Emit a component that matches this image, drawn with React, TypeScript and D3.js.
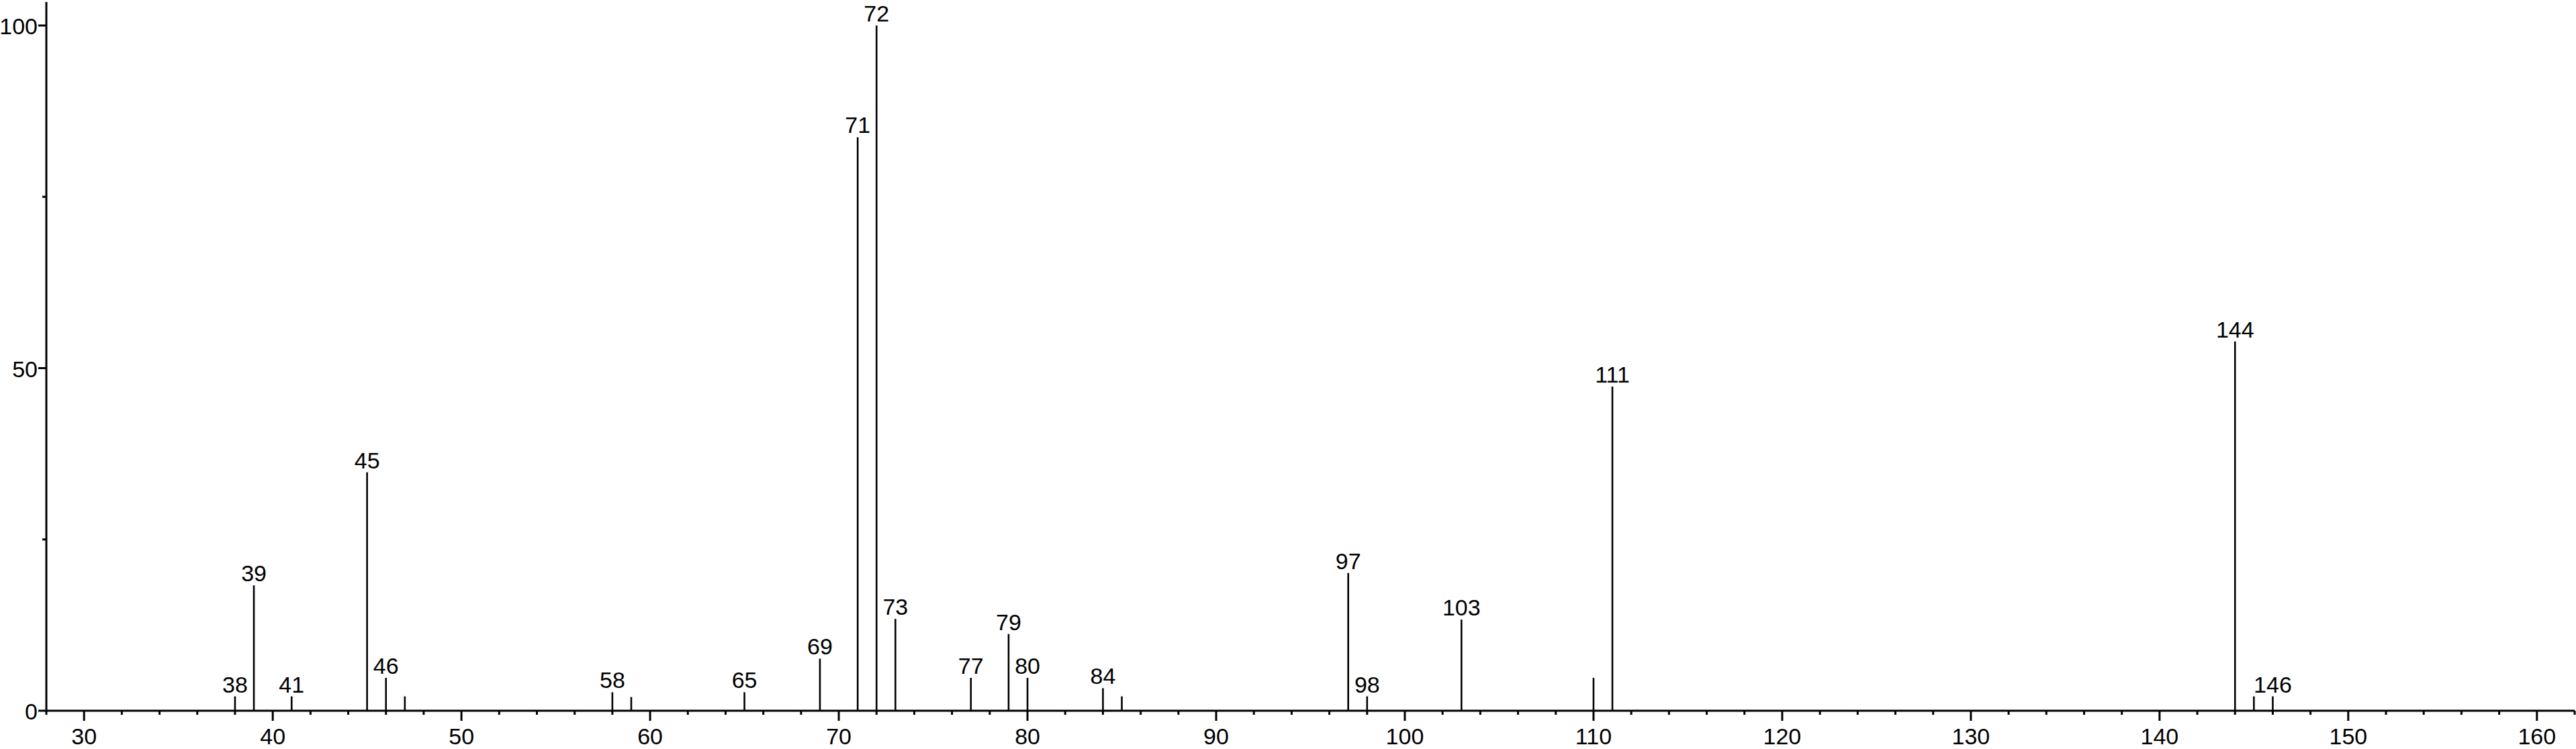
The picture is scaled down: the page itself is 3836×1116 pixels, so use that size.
import React from 'react';
import * as d3 from 'd3';

// m/z of each peak and its relative intensity (%)
const peakMz = [38, 39, 41, 45, 46, 47, 58, 59, 65, 69, 71, 72, 73, 77, 79, 80, 84, 85, 97, 98, 103, 110, 111, 144, 145, 146];
const peakIntensity = [2.1, 18.3, 2.1, 34.8, 4.8, 2.1, 2.7, 2.0, 2.7, 7.6, 83.7, 100, 13.4, 4.8, 11.2, 4.8, 3.3, 2.1, 20.1, 2.1, 13.3, 4.8, 47.3, 53.9, 2.1, 2.1];
// peaks that carry a label
const labelledMz = [38, 39, 41, 45, 46, 58, 65, 69, 71, 72, 73, 77, 79, 80, 84, 97, 98, 103, 111, 144, 146];

const xMajorTicks = [30, 40, 50, 60, 70, 80, 90, 100, 110, 120, 130, 140, 150, 160];
const yMajorTicks = [0, 50, 100];
const yMinorTicks = [25, 75];

const W = 3836;
const H = 1116;
const FONT = '"Liberation Sans", Arial, Helvetica, sans-serif';

export default function App() {
  const x = d3.scaleLinear().domain([28, 162]).range([69, 3834]);
  const y = d3.scaleLinear().domain([0, 100]).range([1059, 38]);

  const x0 = x.range()[0];
  const base = y(0);
  const xMinorTicks = d3.range(28, 163, 2).filter((v) => v % 10 !== 0);

  const peaks = peakMz.map((mz, i) => ({ mz, v: peakIntensity[i] }));

  return (
    <svg
      width={W}
      height={H}
      style={{ position: 'absolute', left: 0, top: 0, background: '#fff' }}
      fontFamily={FONT}
    >
      <rect width={W} height={H} fill="#fff" />

      {/* peaks */}
      {peaks.map((p) => (
        <line
          key={p.mz}
          x1={x(p.mz)}
          x2={x(p.mz)}
          y1={base}
          y2={y(p.v)}
          stroke="#000"
          strokeWidth={2.6}
        />
      ))}
      {peaks
        .filter((p) => labelledMz.includes(p.mz))
        .map((p) => (
          <text
            key={'l' + p.mz}
            x={x(p.mz)}
            y={y(p.v) - 6}
            textAnchor="middle"
            fontSize={34}
            fill="#000"
          >
            {p.mz}
          </text>
        ))}

      {/* x axis */}
      <line x1={x0} x2={x.range()[1]} y1={base} y2={base} stroke="#000" strokeWidth={3} />
      {xMajorTicks.map((t) => (
        <g key={'xt' + t}>
          <line x1={x(t)} x2={x(t)} y1={base} y2={base + 15} stroke="#000" strokeWidth={3} />
          <text x={x(t)} y={base + 50} textAnchor="middle" fontSize={34} fill="#000">
            {t}
          </text>
        </g>
      ))}
      {xMinorTicks.map((t) => (
        <line key={'xm' + t} x1={x(t)} x2={x(t)} y1={base} y2={base + 6} stroke="#000" strokeWidth={3} />
      ))}

      {/* y axis */}
      <line x1={x0} x2={x0} y1={3} y2={base + 1.5} stroke="#000" strokeWidth={3} />
      {yMajorTicks.map((t) => (
        <g key={'yt' + t}>
          <line x1={x0 - 12} x2={x0} y1={y(t)} y2={y(t)} stroke="#000" strokeWidth={3} />
          <text x={x0 - 13} y={y(t) + 13} textAnchor="end" fontSize={34} fill="#000">
            {t}
          </text>
        </g>
      ))}
      {yMinorTicks.map((t) => (
        <line key={'ym' + t} x1={x0 - 6} x2={x0} y1={y(t)} y2={y(t)} stroke="#000" strokeWidth={3} />
      ))}
    </svg>
  );
}
